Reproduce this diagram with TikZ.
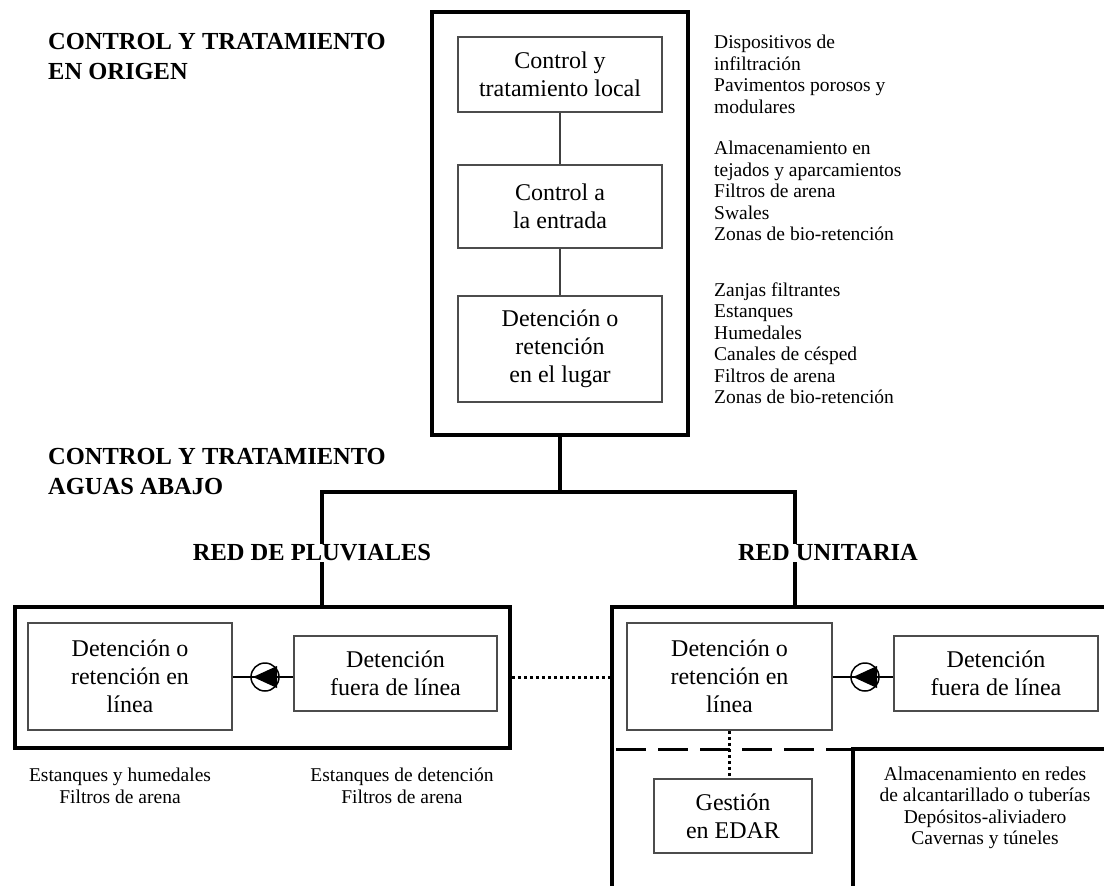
\documentclass[tikz,border=0pt]{standalone}
\usepackage{fontspec}
\setmainfont{Liberation Serif}
\usetikzlibrary{calc}

\newcommand{\boxtxt}{\fontsize{24}{28}\selectfont}
\newcommand{\listtxt}{\fontsize{19.5}{21.5}\selectfont}
\newcommand{\headtxt}{\fontsize{24.5}{30}\selectfont\bfseries}

\begin{document}
\begin{tikzpicture}[x=1pt,y=-1pt,
    outer/.style={draw, line width=3.5pt, inner sep=0pt},
    inbox/.style={draw=black!70, line width=1.6pt, align=center, inner sep=0pt, font=\boxtxt},
    link/.style={draw=black!75, line width=1.4pt},
    trunk/.style={line width=3.5pt},
    pump/.style={circle, draw, line width=1.5pt, minimum size=28pt, inner sep=0pt},
    dots/.style={line width=3pt, dash pattern=on 3pt off 3pt},
    heading/.style={align=left, anchor=west, inner sep=0pt, font=\headtxt},
    listing/.style={align=left, anchor=west, inner sep=0pt, font=\listtxt},
    notes/.style={align=center, inner sep=0pt, font=\listtxt}]
    \useasboundingbox (0,0) rectangle (1104,886);

    % Control en origen
    \node[outer, minimum width=256pt, minimum height=423pt] (origen) at (560,223.5) {};
    \node[inbox, minimum width=204pt, minimum height=75pt] (local) at (560,74.5) {Control y\\tratamiento local};
    \node[inbox, minimum width=204pt, minimum height=83pt] (entrada) at (560,206.5) {Control a\\la entrada};
    \node[inbox, minimum width=204pt, minimum height=106pt] (lugar) at (560,349) {Detención o\\retención\\en el lugar};
    \draw[link] (local) -- (entrada);
    \draw[link] (entrada) -- (lugar);

    % -- headers
    \node[heading] (hOrigen) at (48,57) {CONTROL Y TRATAMIENTO\\EN ORIGEN};
    \node[heading] (hAbajo) at (48,472) {CONTROL Y TRATAMIENTO\\AGUAS ABAJO};

    % -- techniques (right side)
    \node[listing] (tLocal) at (714,74.5) {Dispositivos de\\infiltración\\Pavimentos porosos y\\modulares};
    \node[listing] (tEntrada) at (714,191) {Almacenamiento en\\tejados y aparcamientos\\Filtros de arena\\Swales\\Zonas de bio-retención};
    \node[listing] (tLugar) at (714,343) {Zanjas filtrantes\\Estanques\\Humedales\\Canales de césped\\Filtros de arena\\Zonas de bio-retención};

    % Split aguas abajo
    \coordinate (split) at (origen.south |- 0,492);
    \coordinate (pluvT) at (322,492);
    \coordinate (unitT) at (795,492);
    \draw[trunk] (origen.south) -- (split);
    \draw[trunk, line cap=rect] (pluvT) -- (unitT);

    % Red de pluviales
    \node[outer, minimum width=495pt, minimum height=141pt] (pluv) at (262.5,677.5) {};
    \draw[trunk] (pluvT) -- (pluvT |- pluv.north);
    \node[font=\headtxt, fill=white, inner sep=1pt] (rPluv) at (312,553) {RED DE PLUVIALES};
    \node[inbox, minimum width=204pt, minimum height=107pt] (pEnLinea) at (130,676.5) {Detención o\\retención en\\línea};
    \node[inbox, minimum width=203pt, minimum height=75pt] (pFuera) at (395.5,673.5) {Detención\\fuera de línea};
    \node[pump] (pump1) at (265,677) {};
    \draw[line width=1.3pt] (pEnLinea.east |- pump1) -- (pFuera.west |- pump1);
    \fill ($(pump1)+(-12,0)$) -- ($(pump1)+(12,-11)$) -- ($(pump1)+(12,11)$) -- cycle;
    \node[notes] (nPEn) at (120,786) {Estanques y humedales\\Filtros de arena};
    \node[notes] (nPFuera) at (402,786) {Estanques de detención\\Filtros de arena};

    % Red unitaria
    \coordinate (uCorner) at (612,607);
    \draw[trunk] (1110,607) -- (uCorner) -- (612,892);
    \draw[trunk] (unitT) -- (unitT |- uCorner);
    \node[font=\headtxt, fill=white, inner sep=1pt] (rUnit) at (828,553) {RED UNITARIA};
    \node[inbox, minimum width=205pt, minimum height=107pt] (uEnLinea) at (729.5,676.5) {Detención o\\retención en\\línea};
    \node[inbox, minimum width=204pt, minimum height=75pt] (uFuera) at (996,673.5) {Detención\\fuera de línea};
    \node[pump] (pump2) at (865,677) {};
    \draw[line width=1.3pt] (uEnLinea.east |- pump2) -- (uFuera.west |- pump2);
    \fill ($(pump2)+(-12,0)$) -- ($(pump2)+(12,-11)$) -- ($(pump2)+(12,11)$) -- cycle;

    % -- lower part
    \coordinate (dashL) at (616,749);
    \coordinate (dashR) at (853,749);
    \draw[line width=3pt, dash pattern=on 30pt off 12pt] (dashL) -- (dashR);
    \draw[trunk] (1110,749) -- (dashR) -- (853,892);
    \node[inbox, minimum width=158pt, minimum height=74pt] (edar) at (733,816) {Gestión\\en EDAR};
    \draw[dots] (uEnLinea.south) -- (uEnLinea.south |- edar.north);
    \node[notes] (nRedes) at (985,808) {Almacenamiento en redes\\de alcantarillado o tuberías\\Depósitos-aliviadero\\Cavernas y túneles};

    % Enlace entre redes
    \draw[dots] (pluv.east |- pump1) -- (uCorner |- pump1);
\end{tikzpicture}
\end{document}
